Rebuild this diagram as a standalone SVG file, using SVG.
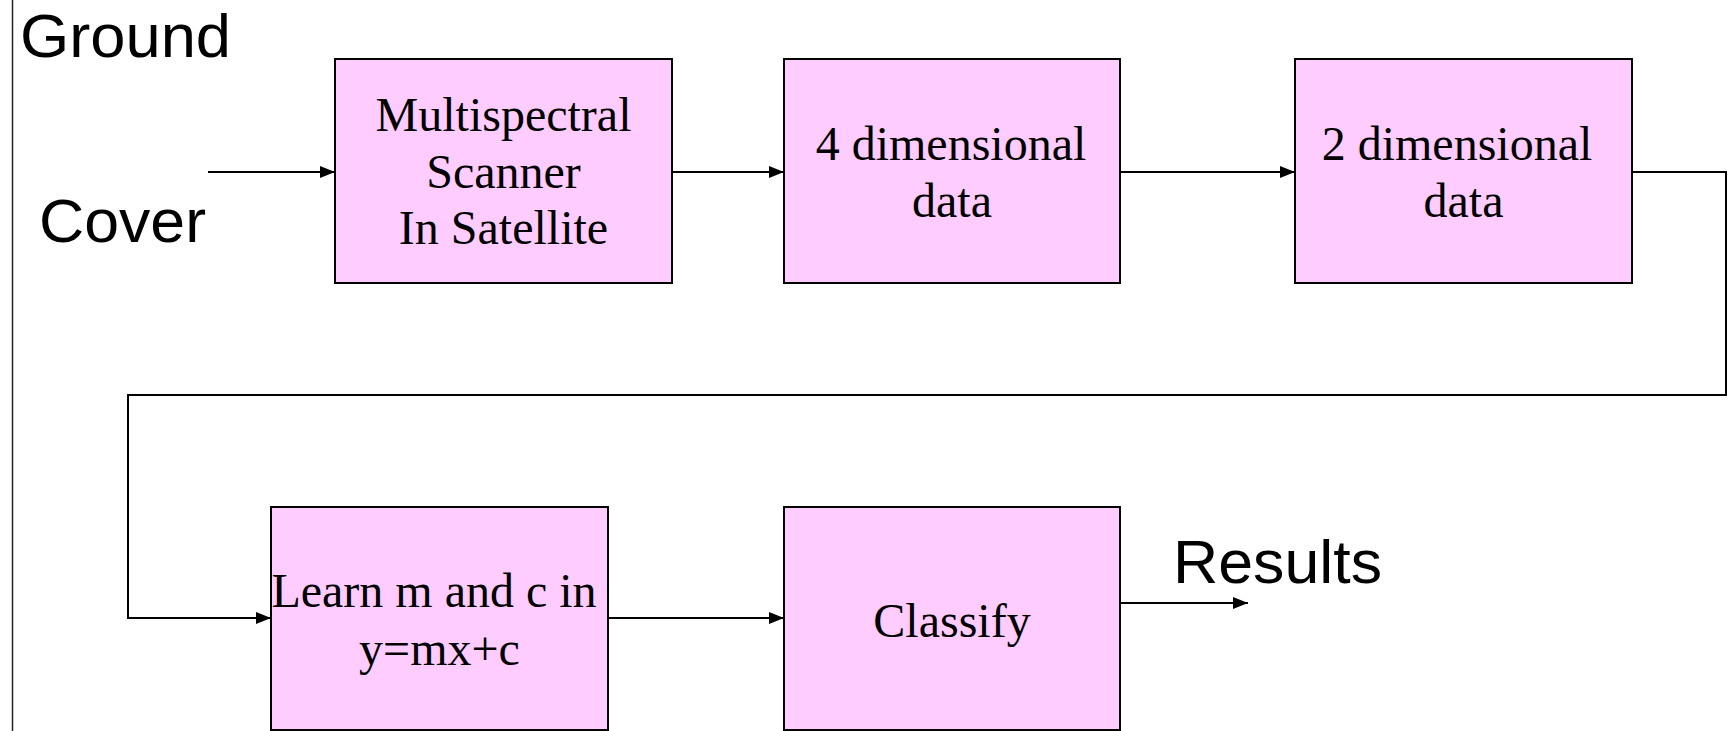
<svg xmlns="http://www.w3.org/2000/svg" width="1728" height="731" viewBox="0 0 1728 731">
<style>
.box{fill:#FFCCFF;stroke:#000;stroke-width:2}
.lbl{font-family:"Liberation Serif","Times New Roman",serif;font-size:48px;fill:#000;text-anchor:middle}
.big{font-family:"Liberation Sans",Arial,sans-serif;font-size:62px;fill:#000}
.conn{fill:none;stroke:#000;stroke-width:2}
</style>
<defs>
<marker id="ah" markerWidth="15" markerHeight="12" refX="15" refY="6" orient="auto" markerUnits="userSpaceOnUse">
<path d="M0,0 L15,6 L0,12 Z" fill="#000"/>
</marker>
</defs>
<rect width="1728" height="731" fill="#fff"/>
<line x1="12.5" y1="0" x2="12.5" y2="731" stroke="#222" stroke-width="1.5"/>
<g id="labels">
<text class="big" x="20" y="57" textLength="211" lengthAdjust="spacingAndGlyphs">Ground</text>
<text class="big" x="39" y="242" textLength="167" lengthAdjust="spacingAndGlyphs">Cover</text>
<text class="big" x="1173" y="583" textLength="209" lengthAdjust="spacingAndGlyphs">Results</text>
</g>
<g id="connectors">
<line class="conn" x1="208" y1="172" x2="335" y2="172" marker-end="url(#ah)"/>
<line class="conn" x1="672" y1="172" x2="784" y2="172" marker-end="url(#ah)"/>
<line class="conn" x1="1120" y1="172" x2="1295" y2="172" marker-end="url(#ah)"/>
<polyline class="conn" points="1632,172 1726,172 1726,395 128,395 128,618 271,618" marker-end="url(#ah)"/>
<line class="conn" x1="608" y1="618" x2="784" y2="618" marker-end="url(#ah)"/>
<line class="conn" x1="1120" y1="603" x2="1248" y2="603" marker-end="url(#ah)"/>
</g>
<g id="scanner">
<rect class="box" x="335" y="59" width="337" height="224"/>
<text class="lbl" x="503.5" y="131">Multispectral</text>
<text class="lbl" x="503.5" y="188">Scanner</text>
<text class="lbl" x="503.5" y="244">In Satellite</text>
</g>
<g id="data4d">
<rect class="box" x="784" y="59" width="336" height="224"/>
<text class="lbl" x="951" y="160">4 dimensional</text>
<text class="lbl" x="952" y="217">data</text>
</g>
<g id="data2d">
<rect class="box" x="1295" y="59" width="337" height="224"/>
<text class="lbl" x="1457" y="160">2 dimensional</text>
<text class="lbl" x="1463.5" y="217">data</text>
</g>
<g id="learn">
<rect class="box" x="271" y="507" width="337" height="223"/>
<text class="lbl" x="434" y="607">Learn m and c in</text>
<text class="lbl" x="439.5" y="665">y=mx+c</text>
</g>
<g id="classify">
<rect class="box" x="784" y="507" width="336" height="223"/>
<text class="lbl" x="952" y="637">Classify</text>
</g>
</svg>
